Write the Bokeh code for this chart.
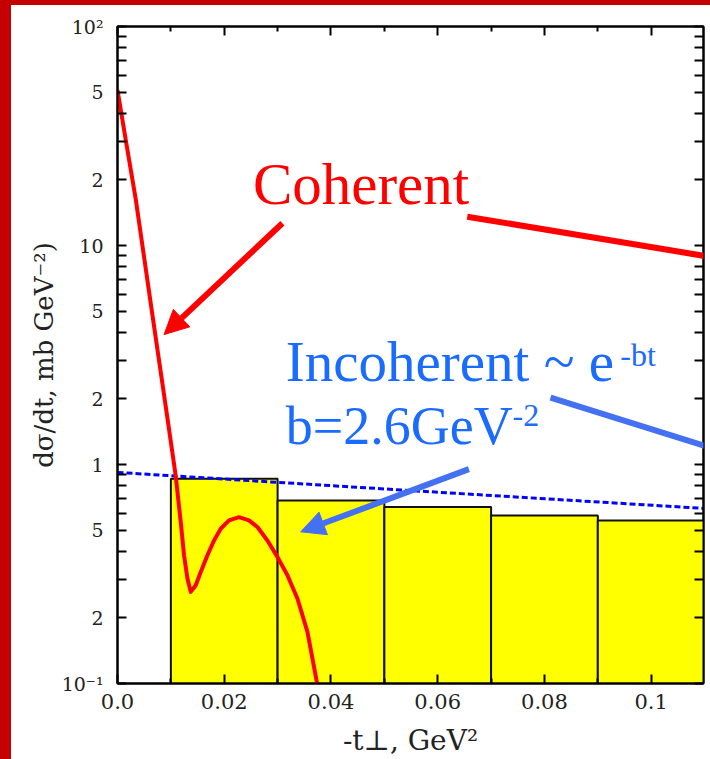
from bokeh.plotting import figure
from bokeh.models import (Range1d, FixedTicker, LinearAxis, LogAxis, Label, Arrow,
                          NormalHead, Spacer)
from bokeh.layouts import column, row
from bokeh.embed import file_html
from bokeh.resources import INLINE

# ---------------- data ----------------
# coherent cross section (red curve)
coh_t = [0.0, 0.0017, 0.00343, 0.0065, 0.0092, 0.0109, 0.01185, 0.01247, 0.01311, 0.01373,
         0.01466, 0.0156, 0.01685, 0.01809, 0.01934, 0.0209, 0.02277, 0.02464, 0.02622,
         0.02809, 0.02996, 0.03184, 0.03371, 0.03558, 0.03745]
coh_v = [51.2, 28.8, 16.2, 4.9, 1.73, 0.89, 0.546, 0.385, 0.301, 0.262,
         0.281, 0.323, 0.385, 0.450, 0.509, 0.556, 0.575, 0.556, 0.518,
         0.450, 0.3785, 0.312, 0.2445, 0.1724, 0.0986]

# incoherent exponential fit (blue dashed)
inc_t = [0.0, 0.055, 0.11]
inc_v = [0.92, 0.76, 0.63]

# histogram (yellow bars)
bin_left = [0.01, 0.03, 0.05, 0.07, 0.09]
bin_right = [0.03, 0.05, 0.07, 0.09, 0.11]
bin_height = [0.86, 0.685, 0.64, 0.585, 0.555]

# ticks
x_major = [0.0, 0.02, 0.04, 0.06, 0.08, 0.1]
x_minor = [0.01, 0.03, 0.05, 0.07, 0.09, 0.11]
x_labels = ["0.0", "0.02", "0.04", "0.06", "0.08", "0.1"]
y_major = [0.1, 0.2, 0.5, 1, 2, 5, 10, 20, 50, 100]
y_minor = [0.3, 0.4, 0.6, 0.7, 0.8, 0.9, 3, 4, 6, 7, 8, 9, 30, 40, 60, 70, 80, 90]
y_labels = ["10\u207b\u00b9", "2", "5", "1", "2", "5", "10", "2", "5", "10\u00b2"]

RED = "#FF0000"
BLUE_TXT = "#1A6BFF"
BLUE_ARR = "#4470F2"
SERIF = "Liberation Serif"
AXF = "DejaVu Serif"

p = figure(width=699, height=754, y_axis_type="log",
           x_range=Range1d(0.0, 0.1098), y_range=Range1d(0.1, 100),
           output_backend="svg", toolbar_location=None,
           min_border_left=106, min_border_right=7, min_border_top=21, min_border_bottom=74,
           background_fill_color="white", border_fill_color="white")
p.grid.visible = False
p.outline_line_color = "black"
p.outline_line_width = 2

# bars
p.quad(left=bin_left, right=bin_right, bottom=[0.1] * len(bin_left), top=bin_height,
       fill_color="#FFFF00", line_color="#111111", line_width=2)
# incoherent line
p.line(inc_t, inc_v, line_color="#0000FF", line_width=3, line_dash="6 3")
# coherent curve
p.line(coh_t, coh_v, line_color=RED, line_width=4, line_join="round")

# axes styling
xt = FixedTicker(ticks=x_major, minor_ticks=x_minor)
yt = FixedTicker(ticks=y_major, minor_ticks=y_minor)

xa = p.xaxis[0]
xa.ticker = xt
xa.major_label_overrides = dict(zip(x_major, x_labels))
ya = p.yaxis[0]
ya.ticker = yt
ya.major_label_overrides = dict(zip([float(v) for v in y_major], y_labels))

for ax in (xa, ya):
    ax.axis_line_width = 2
    ax.major_tick_out = 0
    ax.minor_tick_out = 0
    ax.major_tick_line_width = 2
    ax.minor_tick_line_width = 2
    ax.major_label_text_font = AXF
    ax.major_label_text_color = "#222222"
    ax.axis_label_text_font = AXF
    ax.axis_label_text_font_style = "normal"
    ax.axis_label_text_color = "#222222"

xa.major_tick_in = 9
xa.minor_tick_in = 5
xa.major_label_text_font_size = "21px"
xa.major_label_standoff = 10
xa.axis_label = "-t\u22a5, GeV\u00b2"
xa.axis_label_text_font_size = "28px"
xa.axis_label_standoff = 12

ya.major_tick_in = 9
ya.minor_tick_in = 9
ya.major_label_text_font_size = "19px"
ya.major_label_standoff = 14
ya.axis_label = "d\u03c3/dt, mb GeV\u207b\u00b2)"
ya.axis_label_text_font_size = "26px"
ya.axis_label_standoff = 0

top = LinearAxis(ticker=FixedTicker(ticks=x_major, minor_ticks=x_minor))
top.major_label_overrides = {v: "" for v in x_major}
right = LogAxis(ticker=FixedTicker(ticks=y_major, minor_ticks=y_minor))
right.major_label_overrides = {float(v): "" for v in y_major}
for ax, mj, mn in ((top, 9, 5), (right, 9, 9)):
    ax.axis_line_width = 2
    ax.major_tick_out = 0
    ax.minor_tick_out = 0
    ax.major_tick_in = mj
    ax.minor_tick_in = mn
    ax.major_tick_line_width = 2
    ax.minor_tick_line_width = 2
    ax.major_label_standoff = 0
p.add_layout(top, "above")
p.add_layout(right, "right")

# annotations
def lab(x, y, text, size, color, off):
    p.add_layout(Label(x=x, y=y, text=text, text_font=SERIF, text_font_size=size,
                       text_color=color, text_baseline="alphabetic", text_align="left",
                       y_offset=off))

lab(0.02537, 14.99, "Coherent", "59px", RED, 23)
lab(0.03152, 2.37, "Incoherent ~ e", "57px", BLUE_TXT, 21)
lab(0.0942, 2.80, "-bt", "32px", BLUE_TXT, 12)
lab(0.03152, 1.211, "b=2.6GeV", "54px", BLUE_TXT, 20)
lab(0.07403, 1.474, "-2", "32px", BLUE_TXT, 12)

p.add_layout(Arrow(x_start=0.0309, y_start=12.64, x_end=0.00873, y_end=3.92,
                   line_color=RED, line_width=6,
                   end=NormalHead(size=24, fill_color=RED, line_color=RED, line_width=1)))
p.add_layout(Arrow(x_start=0.06554, y_start=13.54, x_end=0.1111, y_end=8.87,
                   line_color=RED, line_width=6, end=None))
p.add_layout(Arrow(x_start=0.06584, y_start=0.952, x_end=0.03433, y_end=0.493,
                   line_color=BLUE_ARR, line_width=6,
                   end=NormalHead(size=24, fill_color=BLUE_ARR, line_color=BLUE_ARR, line_width=1)))
p.add_layout(Arrow(x_start=0.08114, y_start=2.018, x_end=0.1111, y_end=1.195,
                   line_color=BLUE_ARR, line_width=6, end=None))

band_top = Spacer(width=710, height=5, styles={"background-color": "#C40000"})
band_left = Spacer(width=11, height=754, styles={"background-color": "#C40000"})
layout = column(band_top, row(band_left, p, spacing=0), spacing=0)

open("out.html", "w").write(file_html(layout, INLINE))
